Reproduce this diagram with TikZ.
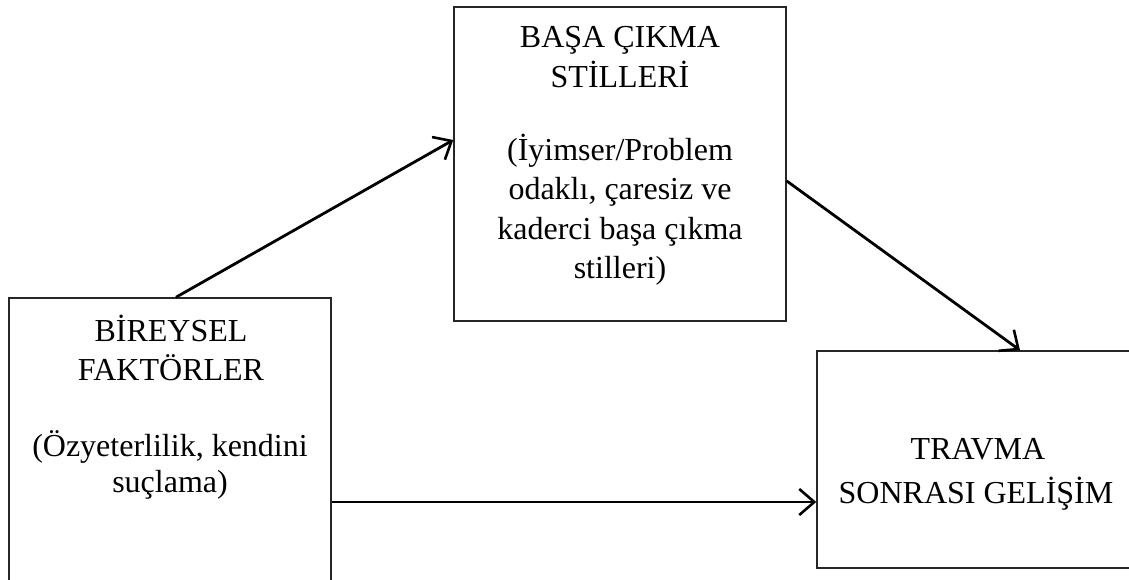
\documentclass[tikz,border=0pt]{standalone}
\usepackage{fontspec}
\setmainfont{Liberation Serif}
\usetikzlibrary{arrows.meta}
\begin{document}
\begin{tikzpicture}[x=1pt,y=-1pt,
  box/.style={draw=black!85,line width=1.5pt,rectangle,inner sep=0pt},
  txt/.style={anchor=base,inner sep=0pt,font=\fontsize{32}{38}\selectfont},
  link/.style={line width=2.8pt,-{Straight Barb[length=15pt,width=26pt,line width=2.6pt]}}]
\useasboundingbox (0,0) rectangle (1129,580);
\clip (0,0) rectangle (1129,580);

% boxes
\node[box,minimum width=322pt,minimum height=302pt] (ind) at (170,449) {};
\node[box,minimum width=332pt,minimum height=314pt] (cop) at (620,164) {};
\node[box,minimum width=323pt,minimum height=217pt] (ptg) at (978.5,459.5) {};

% individual factors
\node[txt] (i1) at (171,341) {BİREYSEL};
\node[txt] (i2) at (171,380) {FAKTÖRLER};
\node[txt] (i3) at (170,456) {(Özyeterlilik, kendini};
\node[txt] (i4) at (170,492) {suçlama)};

% coping styles
\node[txt] (c1) at (620,48) {BAŞA ÇIKMA};
\node[txt] (c2) at (620,88) {STİLLERİ};
\node[txt] (c3) at (620,161) {(İyimser/Problem};
\node[txt] (c4) at (620,200) {odaklı, çaresiz ve};
\node[txt] (c5) at (620,239) {kaderci başa çıkma};
\node[txt] (c6) at (620,278) {stilleri)};

% posttraumatic growth
\node[txt] (p1) at (978,459) {TRAVMA};
\node[txt] (p2) at (976,503) {SONRASI GELİŞİM};

% connectors
\draw[link] ([xshift=6pt]ind.north) -- ([yshift=24pt]cop.west);
\draw[link] ([yshift=-17pt]cop.east) -- ([xshift=41.5pt]ptg.north);
\draw[link] ([yshift=-53pt]ind.east) -- ([yshift=-42.5pt]ptg.west);
\end{tikzpicture}
\end{document}
